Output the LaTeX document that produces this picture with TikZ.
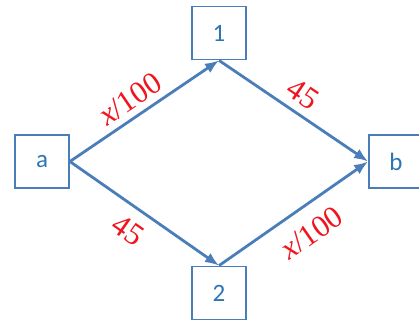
\documentclass[tikz,border=0pt]{standalone}
\usepackage{fontspec}
\setmainfont{Liberation Serif}
\newfontfamily\boxfont{Carlito}
\usetikzlibrary{arrows.meta}
\definecolor{boxblue}{HTML}{4A7EBB}
\definecolor{txtblue}{HTML}{2E75B6}
\definecolor{lblred}{HTML}{F0141E}
\begin{document}
\begin{tikzpicture}[x=1pt,y=-1pt,
  vbox/.style={draw=boxblue, line width=1.8pt, minimum width=54pt, minimum height=53pt,
    inner sep=0pt, text=txtblue, font=\boxfont\fontsize{25}{29}\selectfont},
  edge/.style={draw=boxblue, line width=2.8pt, -{Latex[length=14pt,width=11pt]}},
  lbl/.style={text=lblred, font=\fontsize{31}{36}\selectfont, sloped, inner sep=0pt}]
\useasboundingbox[fill=white] (0,0) rectangle (419,325);
\node[vbox] (a) at (42,161.5) {a};
\node[vbox] (n1) at (219,33) {1};
\node[vbox] (n2) at (219,293) {2};
\node[vbox] (b) at (396,161.5) {b};
\draw[edge] (a.east) -- node[lbl, pos=0.47, yshift=18pt] {\textit{x}/100} (n1.south);
\draw[edge] (n1.south) -- node[lbl, pos=0.49, yshift=19pt] {45} (b.west);
\draw[edge] (a.east) -- node[lbl, pos=0.48, yshift=-23pt] {45} (n2.north);
\draw[edge] (n2.north) -- node[lbl, pos=0.52, yshift=-26pt] {\textit{x}/100} (b.west);
\end{tikzpicture}
\end{document}
